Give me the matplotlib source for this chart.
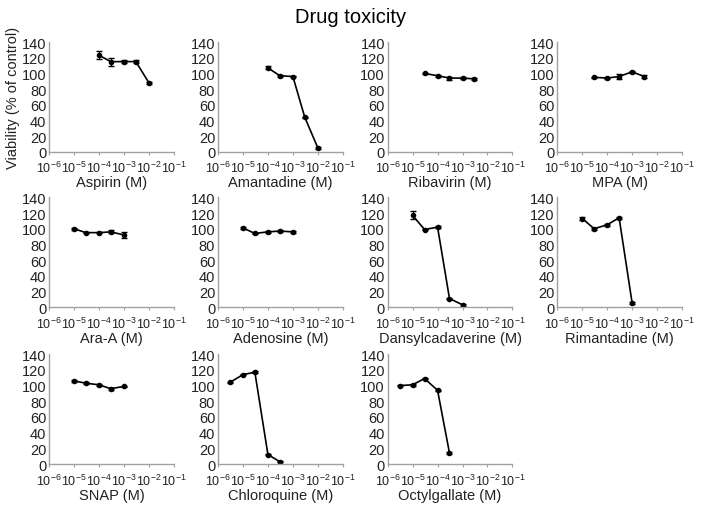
import numpy as np
import matplotlib.pyplot as plt

plt.rcParams['font.family'] = ['Liberation Sans', 'DejaVu Sans']
plt.rcParams['mathtext.fontset'] = 'custom'
plt.rcParams['mathtext.rm'] = 'Liberation Sans'
plt.rcParams['mathtext.it'] = 'Liberation Sans:italic'
plt.rcParams['mathtext.bf'] = 'Liberation Sans:bold'

drugs = ["Aspirin", "Amantadine", "Ribavirin", "MPA",
         "Ara-A", "Adenosine", "Dansylcadaverine", "Rimantadine",
         "SNAP", "Chloroquine", "Octylgallate"]

conc = [
    [1e-4, 3e-4, 1e-3, 3e-3, 1e-2],
    [1e-4, 3e-4, 1e-3, 3e-3, 1e-2],
    [3e-5, 1e-4, 3e-4, 1e-3, 3e-3],
    [3e-5, 1e-4, 3e-4, 1e-3, 3e-3],
    [1e-5, 3e-5, 1e-4, 3e-4, 1e-3],
    [1e-5, 3e-5, 1e-4, 3e-4, 1e-3],
    [1e-5, 3e-5, 1e-4, 3e-4, 1e-3],
    [1e-5, 3e-5, 1e-4, 3e-4, 1e-3],
    [1e-5, 3e-5, 1e-4, 3e-4, 1e-3],
    [3e-6, 1e-5, 3e-5, 1e-4, 3e-4],
    [3e-6, 1e-5, 3e-5, 1e-4, 3e-4],
]

viability = [
    [123, 115, 115, 115, 88],
    [107, 97, 96, 44, 5],
    [100, 97, 94, 94, 93],
    [95, 94, 96, 102, 96],
    [100, 95, 95, 96, 92],
    [101, 94, 96, 97, 96],
    [117, 99, 102, 11, 3],
    [113, 100, 105, 114, 5],
    [106, 103, 101, 96, 99],
    [104, 114, 117, 12, 3],
    [100, 101, 109, 94, 14],
]

errors = [
    [5, 5, 2, 2, 1],
    [2, 1, 1, 1, 1],
    [1, 1, 2, 1, 1],
    [1, 1, 3, 1, 2],
    [1, 1, 1, 2, 4],
    [1, 1, 1, 1, 1],
    [5, 1, 1, 1, 1],
    [2, 1, 1, 1, 1],
    [1, 1, 1, 1, 1],
    [1, 1, 1, 1, 1],
    [1, 1, 1, 1, 1],
]

fig = plt.figure(figsize=(7.01, 5.06), dpi=100)
fig.suptitle("Drug toxicity", fontsize=14.5, y=0.985)

lefts = [0.070, 0.311, 0.553, 0.795]
bottoms = [0.698, 0.391, 0.081]
w, h = 0.178, 0.217

for i, name in enumerate(drugs):
    r, c = divmod(i, 4)
    ax = fig.add_axes([lefts[c], bottoms[r], w, h])
    ax.errorbar(conc[i], viability[i], yerr=errors[i], color='black',
                marker='o', markersize=3, linewidth=1.2, capsize=2,
                elinewidth=0.8)
    ax.set_xscale('log')
    ax.set_xlim(1e-6, 1e-1)
    ax.set_ylim(0, 140)
    ax.set_yticks(range(0, 141, 20))
    ax.set_xticks([1e-6, 1e-5, 1e-4, 1e-3, 1e-2, 1e-1])
    ax.minorticks_off()
    for s in ['top', 'right']:
        ax.spines[s].set_visible(False)
    for s in ['left', 'bottom']:
        ax.spines[s].set_color('#a0a0a0')
        ax.spines[s].set_linewidth(1.0)
    ax.tick_params(axis='both', colors='#a0a0a0', labelcolor='#222222')
    ax.tick_params(axis='y', length=0, labelsize=10.5, pad=2)
    ax.tick_params(axis='x', length=2, labelsize=9, pad=4)
    ax.set_xlabel(name + " (M)", fontsize=10.5, labelpad=0, color='#222222')
    if i == 0:
        ax.set_ylabel("Viability (% of control)", fontsize=10.5, labelpad=1,
                      color='#222222')

fig.savefig("out.png", dpi=100)
